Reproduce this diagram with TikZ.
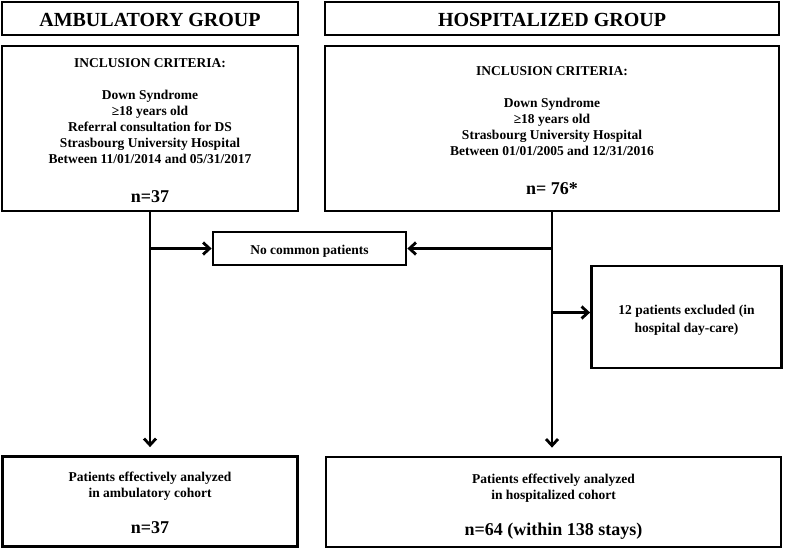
\documentclass[tikz,border=0pt]{standalone}
\usepackage{fontspec}
\setmainfont{Liberation Serif}
\usetikzlibrary{arrows.meta,calc}
\tikzset{
  box/.style={draw, line width=2.8pt, inner sep=0pt, align=center,
    font=\bfseries\fontsize{13.5}{16}\selectfont},
  headbox/.style={box, font=\bfseries\fontsize{20}{24}\selectfont},
  arr/.style={line width=2.8pt, -{Straight Barb[length=6.5pt,width=12pt]}}
}
\newcommand{\bign}[1]{{\fontsize{18}{16}\selectfont #1}}
\newcommand{\tp}[1]{\rule{0pt}{#1}}
\begin{document}
\begin{tikzpicture}[x=1pt,y=-1pt]
\useasboundingbox (0,0) rectangle (785,549);
\node[headbox, minimum width=296pt, minimum height=33pt] (hA) at (150,18.5) {\tp{16pt}AMBULATORY GROUP};
\node[headbox, minimum width=454pt, minimum height=33pt] (hH) at (552,18.5) {\tp{16pt}HOSPITALIZED GROUP};
\node[box, minimum width=296pt, minimum height=165pt] (cA) at (150,128.5)
  {\tp{13pt}INCLUSION CRITERIA:\\[16pt]Down Syndrome\\≥18 years old\\Referral consultation for DS\\Strasbourg University Hospital\\Between 11/01/2014 and 05/31/2017\\[22.5pt]\bign{n=37}};
\node[box, minimum width=454pt, minimum height=165pt] (cH) at (552,128.5)
  {\tp{13pt}INCLUSION CRITERIA:\\[16pt]Down Syndrome\\≥18 years old\\Strasbourg University Hospital\\Between 01/01/2005 and 12/31/2016\\[22.5pt]\bign{n= 76*}};
\node[box, minimum width=193pt, minimum height=33pt] (nc) at (309.5,248.5) {\tp{14pt}No common patients};
\node[box, minimum width=190pt, minimum height=102pt] (ex) at (686.5,317) {\tp{15pt}12 patients excluded (in\\[2pt]hospital day-care)};
\node[box, minimum width=295pt, minimum height=90pt] (bA) at (150,501.5)
  {\tp{13pt}Patients effectively analyzed\\in ambulatory cohort\\[20pt]\bign{n=37}};
\node[box, minimum width=455pt, minimum height=90pt] (bH) at (553.5,502)
  {\tp{18pt}Patients effectively analyzed\\in hospitalized cohort\\[20pt]\bign{n=64 (within 138 stays)}};
\coordinate (aEnd) at ($(cA.south |- bA.north)+(0,-8)$);
\coordinate (hEnd) at ($(cH.south |- bH.north)+(0,-8)$);
\draw[arr] (cA.south) -- (aEnd);
\draw[arr] (cH.south) -- (hEnd);
\draw[arr] (cA.south |- nc.west) -- (nc.west);
\draw[arr] (cH.south |- nc.east) -- (nc.east);
\draw[arr] ($(cH.south |- ex.west)+(0,-4.5)$) -- ($(ex.west)+(0,-4.5)$);
\end{tikzpicture}
\end{document}
